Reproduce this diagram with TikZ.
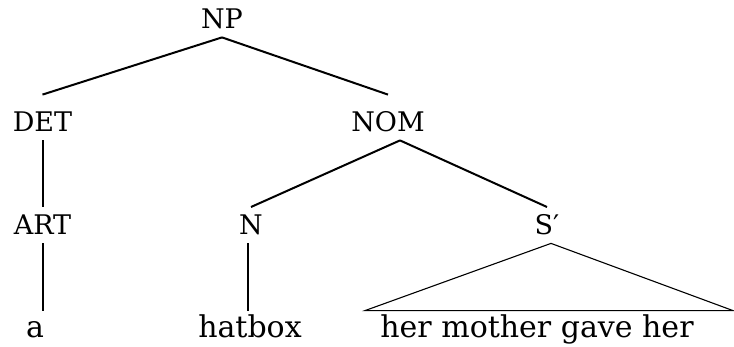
\documentclass[tikz,border=0pt]{standalone}
\usepackage{fontspec}
\setmainfont{DejaVu Serif}

\begin{document}
\begin{tikzpicture}[x=0.5pt, y=-0.5pt,
    cat/.style={anchor=base, inner xsep=0pt, inner ysep=4pt, text height=9.8pt, text depth=0pt, font=\fontsize{13.5}{16}\selectfont},
    word/.style={anchor=base, inner xsep=0pt, inner ysep=3pt, text height=10.5pt, text depth=0pt, font=\fontsize{15}{18}\selectfont},
    branch/.style={line width=1pt},
    roof/.style={line width=0.55pt}]
    \useasboundingbox (0, 0) rectangle (734, 347);
    % Labels
    \node [cat] (np) at (222, 29) {NP};
    \node [cat] (det) at (42.5, 132) {DET};
    \node [cat] (nom) at (388, 132) {NOM};
    \node [cat] (art) at (42.5, 235) {ART};
    \node [cat] (n) at (251, 235) {N};
    \node [cat] (sbar) at (547, 235) {S′};
    % Words
    \node [word] (wa) at (35, 338) {a};
    \node [word] (whatbox) at (250, 338) {hatbox};
    \node [word] (wrest) at (537, 338) {her mother gave her};
    % Branches
    \draw [branch] (np.south) -- ([yshift=4.7pt]det.north);
    \draw [branch] (np.south) -- ([yshift=4.7pt]nom.north);
    \draw [branch] (det.south) -- (art.north);
    \draw [branch] ([xshift=6pt]nom.south) -- (n.north);
    \draw [branch] ([xshift=6pt]nom.south) -- (sbar.north);
    \draw [branch] (art.south) -- (art.south |- wa.north);
    \draw [branch] ([xshift=-1.5pt]n.south) -- ([xshift=-1.5pt]n.south |- whatbox.north);
    % Roof
    \draw [roof] ([xshift=2pt]sbar.south) -- ([xshift=98pt]wrest.north) -- ([xshift=-86pt]wrest.north) -- cycle;
\end{tikzpicture}
\end{document}
